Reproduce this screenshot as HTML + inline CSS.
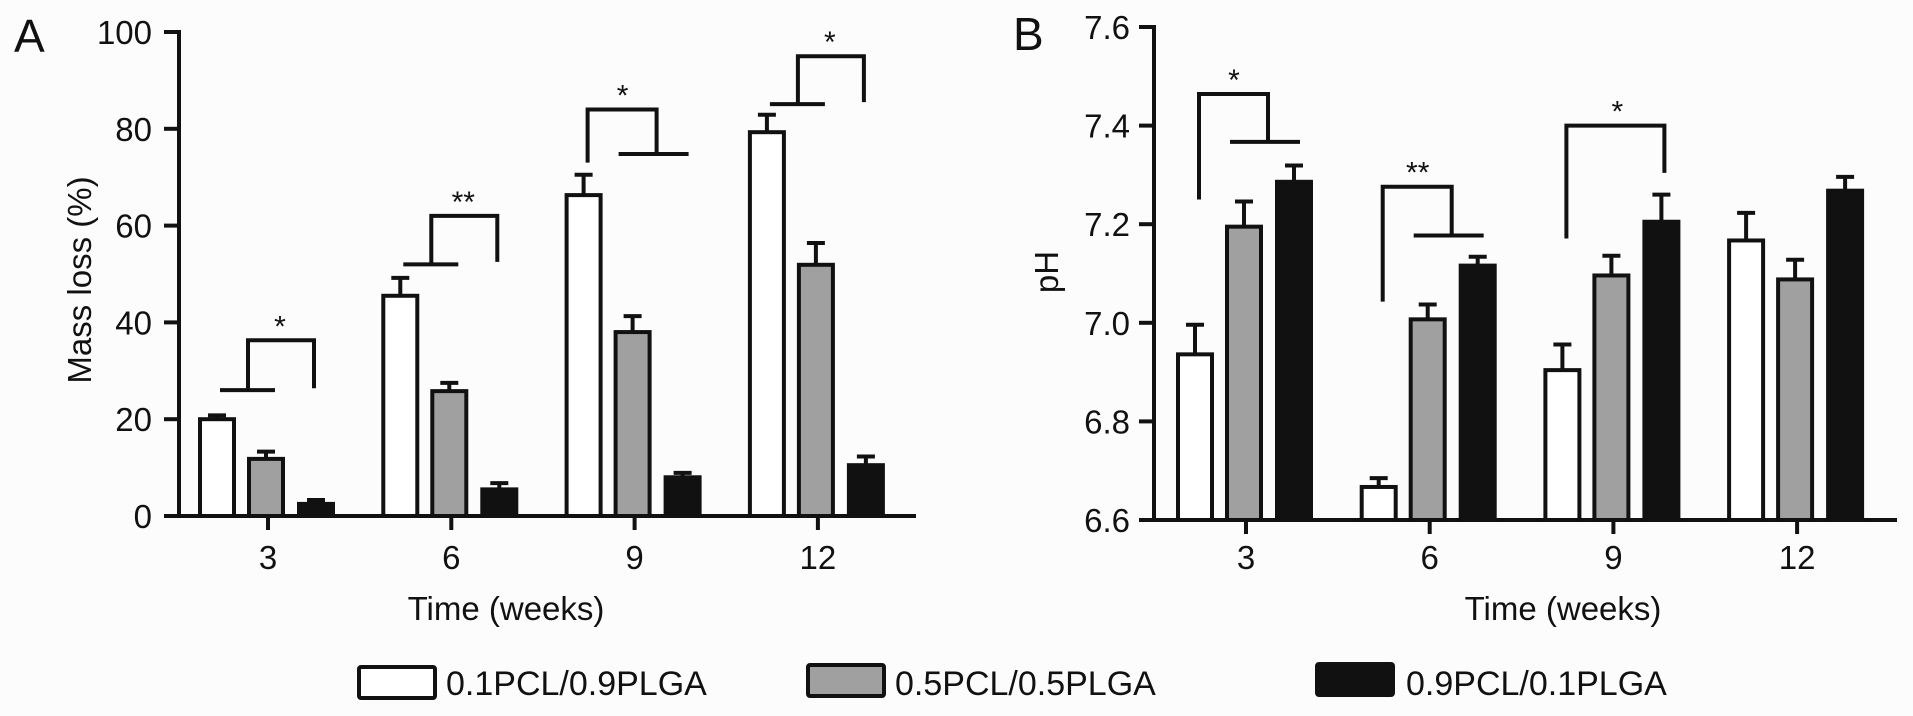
<!DOCTYPE html>
<html><head><meta charset="utf-8">
<style>
html,body{margin:0;padding:0;background:#fcfcfc;}
svg{display:block;font-family:"Liberation Sans",Arial,sans-serif;}
</style></head>
<body>
<svg id="fig" width="1913" height="716" viewBox="0 0 1913 716" xmlns="http://www.w3.org/2000/svg">
<rect x="0" y="0" width="1913" height="716" fill="#fcfcfc"/>
<g id="panelA"></g>
<g id="panelB"></g>
<g id="legend">
  <g>
    <rect x="359" y="667" width="76" height="31" fill="#fff" stroke="#111" stroke-width="4" rx="2"/>
    <text x="446" y="695" font-size="34" fill="#111">0.1PCL/0.9PLGA</text>
  </g>
  <g>
    <rect x="808" y="665" width="76" height="31" fill="#a0a0a0" stroke="#111" stroke-width="4" rx="2"/>
    <text x="895" y="695" font-size="34" fill="#111">0.5PCL/0.5PLGA</text>
  </g>
  <g>
    <rect x="1317" y="664" width="76" height="31" fill="#111" stroke="#111" stroke-width="4" rx="2"/>
    <text x="1406" y="695" font-size="34" fill="#111">0.9PCL/0.1PLGA</text>
  </g>
</g>
</svg>
<script>
// ---- data ----
const categories = ["3", "6", "9", "12"];
const seriesNames = ["0.1PCL/0.9PLGA", "0.5PCL/0.5PLGA", "0.9PCL/0.1PLGA"];
const massWhite = [20, 45.5, 66.3, 79.3];
const massGrey = [11.8, 25.8, 38.0, 51.9];
const massBlack = [2.5, 5.5, 8.0, 10.5];
const massWhiteErr = [0.8, 3.7, 4.2, 3.6];
const massGreyErr = [1.5, 1.7, 3.3, 4.5];
const massBlackErr = [0.8, 1.3, 0.9, 1.8];
const phWhite = [6.936, 6.667, 6.904, 7.167];
const phGrey = [7.195, 7.007, 7.096, 7.088];
const phBlack = [7.286, 7.116, 7.205, 7.268];
const phWhiteErr = [0.06, 0.018, 0.052, 0.056];
const phGreyErr = [0.051, 0.03, 0.04, 0.04];
const phBlackErr = [0.033, 0.018, 0.055, 0.028];
const massTicks = [0, 20, 40, 60, 80, 100];
const phTicks = [6.6, 6.8, 7.0, 7.2, 7.4, 7.6];
const phTickLabels = ["6.6", "6.8", "7.0", "7.2", "7.4", "7.6"];
// significance brackets: [categoryIndex, type, y1, y2, y3, stars]
const massBrackets = [[0, 1, 26, 36.3, 26.4, "*"], [1, 1, 52, 62, 52.5, "**"], [2, 2, 73, 84, 74.8, "*"], [3, 1, 85.1, 95, 85.5, "*"]];
const phBrackets = [[0, 2, 7.25, 7.464, 7.367, "*"], [1, 2, 7.043, 7.276, 7.177, "**"], [2, 3, 7.171, 7.40, 7.304, "*"]];

const NS = "http://www.w3.org/2000/svg";
function mk(parent, tag, attrs, text) {
  const el = document.createElementNS(NS, tag);
  for (const k in attrs) el.setAttribute(k, attrs[k]);
  if (text !== undefined) el.textContent = text;
  parent.appendChild(el);
  return el;
}
const fills = ["#ffffff", "#a0a0a0", "#111111"];

function drawPanel(g, cfg) {
  const yS = v => cfg.y0 - (v - cfg.vmin) / (cfg.vmax - cfg.vmin) * (cfg.y0 - cfg.y1);
  const xS = i => cfg.firstTick + i * cfg.step;
  let ax = mk(g, "line", {x1: cfg.axisX, y1: cfg.y1 - 2, x2: cfg.axisX, y2: cfg.y0 + 2, stroke: "#111", "stroke-width": 4});
  
  
  let xa = mk(g, "line", {x1: cfg.axisX - 15, y1: cfg.y0, x2: cfg.axisEnd, y2: cfg.y0, stroke: "#111", "stroke-width": 4});
  
  
  cfg.ticks.forEach((t, i) => {
    const y = yS(t);
    const tl = mk(g, "line", {x1: cfg.axisX - 15, y1: y, x2: cfg.axisX, y2: y, stroke: "#111", "stroke-width": 4});
    
    
    const tx = mk(g, "text", {x: cfg.labelEnd, y: y + 12, "text-anchor": "end", "font-size": 33, fill: "#111"}, cfg.tickLabels[i]);
    
    
  });
  categories.forEach((c, i) => {
    const x = xS(i);
    const tl = mk(g, "line", {x1: x, y1: cfg.y0, x2: x, y2: cfg.y0 + 14, stroke: "#111", "stroke-width": 4});
    
    
    const tx = mk(g, "text", {x: x, y: 569, "text-anchor": "middle", "font-size": 33, fill: "#111"}, c);
    
    
    const offs = [-68, -19, 31];
    [cfg.s0, cfg.s1, cfg.s2].forEach((arr, s) => {
      const errs = [cfg.e0, cfg.e1, cfg.e2][s];
      const left = x + offs[s];
      const top = yS(arr[i]);
      const cx = left + 17;
      const eTop = yS(arr[i] + errs[i]);
      const el = mk(g, "line", {x1: cx, y1: top, x2: cx, y2: eTop, stroke: "#111", "stroke-width": 4});
      
      
      const cap = mk(g, "line", {x1: cx - 9, y1: eTop, x2: cx + 9, y2: eTop, stroke: "#111", "stroke-width": 4});
      
      
      const r = mk(g, "rect", {x: left, y: top, width: 34, height: cfg.y0 - top, fill: fills[s], stroke: "#111", "stroke-width": 4});
      
      
    });
  });
  cfg.brackets.forEach(b => {
    const x = xS(b[0]);
    let d;
    if (b[1] === 1) {
      d = `M${x - 48},${yS(b[2])} H${x + 7} M${x - 20},${yS(b[2])} V${yS(b[3])} H${x + 46} V${yS(b[4])}`;
    } else if (b[1] === 2) {
      d = `M${x - 47},${yS(b[2])} V${yS(b[3])} H${x + 22} V${yS(b[4])} M${x - 16},${yS(b[4])} H${x + 54}`;
    } else {
      d = `M${x - 47},${yS(b[2])} V${yS(b[3])} H${x + 51} V${yS(b[4])}`;
    }
    const p = mk(g, "path", {d: d, fill: "none", stroke: "#111", "stroke-width": 4});
    
    
    const sx = b[1] === 1 ? x + 12 : (b[1] === 2 ? x - 12 : x + 4);
    const st = mk(g, "text", {x: sx, y: yS(b[3]) - 4, "text-anchor": "middle", "font-size": 30, fill: "#111"}, b[5]);
    
    
  });
}

const gA = document.getElementById("panelA");
drawPanel(gA, {vmin: 0, vmax: 100, y0: 516, y1: 32, axisX: 179, axisEnd: 916, firstTick: 268, step: 183.3,
  ticks: massTicks, tickLabels: massTicks.map(String), labelEnd: 152,
  s0: massWhite, s1: massGrey, s2: massBlack, e0: massWhiteErr, e1: massGreyErr, e2: massBlackErr, brackets: massBrackets});
const gB = document.getElementById("panelB");
drawPanel(gB, {vmin: 6.6, vmax: 7.6, y0: 520, y1: 27, axisX: 1154, axisEnd: 1897, firstTick: 1246, step: 183.7,
  ticks: phTicks, tickLabels: phTickLabels, labelEnd: 1130,
  s0: phWhite, s1: phGrey, s2: phBlack, e0: phWhiteErr, e1: phGreyErr, e2: phBlackErr, brackets: phBrackets});

let t;
t = mk(gA, "text", {x: 14, y: 52, "font-size": 46, fill: "#111"}, "A");


t = mk(gA, "text", {x: 0, y: 0, "font-size": 33, fill: "#111", "text-anchor": "middle", transform: "translate(91,280) rotate(-90)"}, "Mass loss (%)");


t = mk(gA, "text", {x: 506, y: 620, "font-size": 33, fill: "#111", "text-anchor": "middle"}, "Time (weeks)");


t = mk(gB, "text", {x: 1013, y: 50, "font-size": 46, fill: "#111"}, "B");


t = mk(gB, "text", {x: 0, y: 0, "font-size": 33, fill: "#111", "text-anchor": "middle", transform: "translate(1058,272) rotate(-90)"}, "pH");


t = mk(gB, "text", {x: 1563, y: 620, "font-size": 33, fill: "#111", "text-anchor": "middle"}, "Time (weeks)");


</script>
</body></html>
